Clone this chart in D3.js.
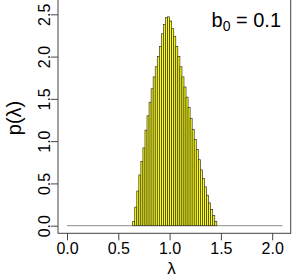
<!DOCTYPE html>
<html><head><meta charset="utf-8">
<script src="https://cdn.jsdelivr.net/npm/d3@7"></script>
<style>body{margin:0;background:#fff}svg{display:block}text{font-family:"Liberation Sans",Arial,sans-serif}</style>
</head><body>
<script>
const binStart = 0.64;
const binWidth = 0.02;
const density = [0.05,0.22,0.41,0.60,0.76,0.92,1.13,1.30,1.46,1.62,1.76,1.88,2.00,2.12,2.27,2.38,2.46,
  2.47,2.42,2.33,2.24,2.12,2.00,1.88,1.76,1.64,1.52,1.40,1.27,1.14,1.02,0.90,0.78,0.66,0.56,0.46,0.36,0.27,0.19,0.12,0.05];
const xTicks = [0, 0.5, 1, 1.5, 2];
const yTicks = [0, 0.5, 1, 1.5, 2, 2.5];
const baseRange = [0, 2.1];
const annotation = {main: "b", sub: "0", rest: " = 0.1"};

const W = 299, H = 280;
const svg = d3.select("body").append("svg").attr("width", W).attr("height", H);
const x = d3.scaleLinear().domain([0, 2]).range([67, 272.2]);
const y = d3.scaleLinear().domain([0, 2.5]).range([225.7, 14.3]);
const box = {l: 58, r: 290.7, t: -5, b: 233.3};

const bins = density.map((d, i) => ({x0: binStart + i * binWidth, x1: binStart + (i + 1) * binWidth, v: d}));

// baseline
svg.append("line").attr("x1", x(baseRange[0])).attr("x2", x(baseRange[1]))
  .attr("y1", y(0)).attr("y2", y(0)).attr("stroke", "#8a8a8a").attr("stroke-width", 1);

svg.append("g").selectAll("rect").data(bins).join("rect")
  .attr("x", d => x(d.x0)).attr("width", d => x(d.x1) - x(d.x0))
  .attr("y", d => y(d.v)).attr("height", d => y(0) - y(d.v))
  .attr("fill", "#ffff00").attr("stroke", "#333").attr("stroke-width", 0.7);

// box
svg.append("rect").attr("x", box.l).attr("y", box.t).attr("width", box.r - box.l).attr("height", box.b - box.t)
  .attr("fill", "none").attr("stroke", "#444").attr("stroke-width", 1);

// x axis
const gx = svg.append("g").attr("transform", `translate(0,${box.b})`)
  .call(d3.axisBottom(x).tickValues(xTicks).tickSize(7).tickFormat(d3.format(".1f")));
gx.select(".domain").remove();
gx.selectAll("line").attr("stroke", "#444");
gx.selectAll("text").attr("font-size", 16).attr("fill", "#000")
  .attr("font-family", "Liberation Sans, Arial, sans-serif")
  .attr("y", 21.2).attr("dy", null);

// y axis
const gy = svg.append("g").attr("transform", `translate(${box.l},0)`)
  .call(d3.axisLeft(y).tickValues(yTicks).tickSize(7).tickFormat(d3.format(".1f")));
gy.select(".domain").remove();
gy.selectAll("line").attr("stroke", "#444");
gy.selectAll("text").attr("font-size", 16).attr("fill", "#000")
  .attr("font-family", "Liberation Sans, Arial, sans-serif")
  .attr("x", null).attr("dy", null)
  .attr("text-anchor", "middle")
  .attr("transform", "translate(-8,0) rotate(-90)");

// axis labels
svg.append("text").attr("x", x(1) + 2).attr("y", 273.5).attr("text-anchor", "middle")
  .attr("font-size", 17).text("λ");
svg.append("text").attr("transform", "translate(21,118) rotate(-90)").attr("text-anchor", "middle")
  .attr("font-size", 20).text("p(λ)");

// annotation
const t = svg.append("text").attr("x", 211.5).attr("y", 27).attr("font-size", 20);
t.append("tspan").text(annotation.main);
t.append("tspan").attr("font-size", 14).attr("dy", 4).text(annotation.sub);
t.append("tspan").attr("dy", -4).text(annotation.rest);
</script>
</body></html>
